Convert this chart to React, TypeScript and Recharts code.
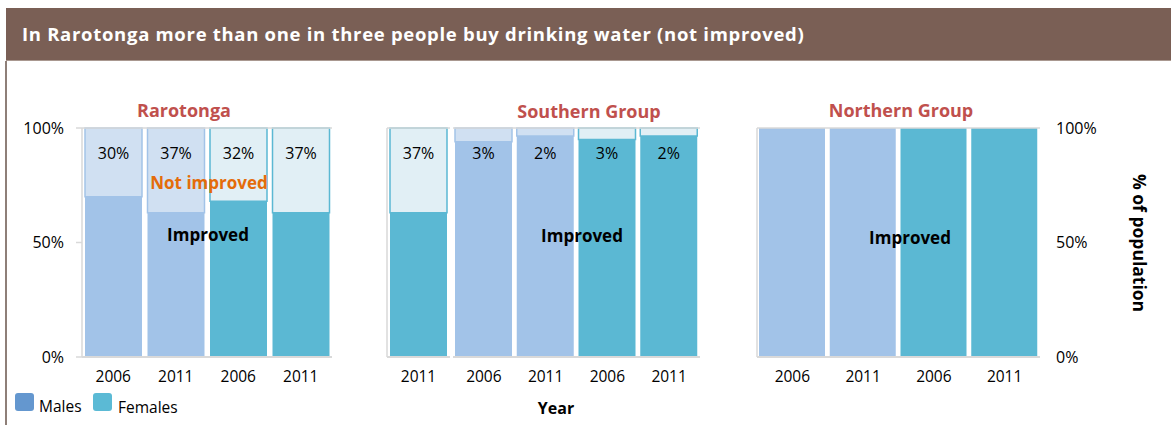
import React from 'react';
import { ComposedChart, Bar, Line, XAxis, YAxis, Cell, LabelList, ReferenceLine } from 'recharts';

// Rarotonga: males 2006/2011, females 2006/2011
const rarotongaYears = ['2006', '2011', '2006', '2011'];
const rarotongaSex = ['M', 'M', 'F', 'F'];
const rarotongaImproved = [70, 63, 68, 63];
const rarotongaNotImproved = [30, 37, 32, 37];
const rarotongaLabels = ['30%', '37%', '32%', '37%'];

// stray bar sitting at the left of the Southern Group panel
const southernExtraYears = ['2011'];
const southernExtraSex = ['F'];
const southernExtraImproved = [63];
const southernExtraNotImproved = [37];
const southernExtraLabels = ['37%'];

const southernYears = ['2006', '2011', '2006', '2011'];
const southernSex = ['M', 'M', 'F', 'F'];
const southernImproved = [94, 96.5, 95, 96.5];
const southernNotImproved = [6, 3.5, 5, 3.5];
const southernLabels = ['3%', '2%', '3%', '2%'];

const northernYears = ['2006', '2011', '2006', '2011'];
const northernSex = ['M', 'M', 'F', 'F'];
const northernImproved = [100, 100, 100, 100];
const northernNotImproved = [0, 0, 0, 0];
const northernLabels = ['', '', '', ''];

const yTicks = [0, 50, 100];

const FONT = '"Open Sans", sans-serif';
const GRID = '#D9D9D9';
const COLORS: Record<string, { solid: string; light: string }> = {
  M: { solid: '#A2C3E8', light: '#D0E0F2' },
  F: { solid: '#5BB8D3', light: '#E1EFF5' },
};

function buildRows(years: string[], sex: string[], improved: number[], notImproved: number[], labels: string[]) {
  return years.map((year, i) => ({
    key: `${sex[i]}-${year}`,
    sex: sex[i],
    improved: improved[i],
    notImproved: notImproved[i],
    total: improved[i] + notImproved[i],
    label: labels[i],
  }));
}

const renderValueLabel = (props: any) => {
  const { x, y, width, value } = props;
  if (!value) return null;
  return (
    <text
      x={Number(x) + Number(width) / 2}
      y={Number(y) + 25}
      textAnchor="middle"
      dominantBaseline="central"
      fill="#000"
      fontSize={16}
      fontFamily={FONT}
    >
      {value}
    </text>
  );
};

interface PanelProps {
  rows: ReturnType<typeof buildRows>;
  left: number;
  width: number;
  leftAxis: 'labels' | 'plain' | 'none';
  rightAxis?: boolean;
  marginLeft?: number;
  marginRight: number;
  barSize: number;
}

function Panel({ rows, left, width, leftAxis, rightAxis, marginLeft = 0, marginRight, barSize }: PanelProps) {
  const xTickStyle = { fill: '#000', fontSize: 15.5, fontFamily: FONT };
  const yTickStyle = { fill: '#000', fontSize: 16, fontFamily: FONT };
  return (
    <div style={{ position: 'absolute', left, top: 0 }}>
      <ComposedChart
        width={width}
        height={425}
        data={rows}
        margin={{ top: 128, right: marginRight, bottom: 38, left: marginLeft }}
        barSize={barSize}
      >
        <XAxis
          dataKey="key"
          tickFormatter={(v: string) => v.split('-')[1]}
          height={30}
          interval={0}
          axisLine={{ stroke: GRID, strokeWidth: 2 }}
          tickLine={false}
          tickSize={0}
          tickMargin={14}
          tick={xTickStyle}
        />
        <YAxis
          yAxisId="l"
          domain={[0, 100]}
          ticks={yTicks}
          hide={leftAxis === 'none'}
          width={leftAxis === 'labels' ? 82 : 7}
          axisLine={{ stroke: GRID, strokeWidth: 1.5 }}
          tickLine={{ stroke: GRID, strokeWidth: 1.5 }}
          tickSize={6}
          tickMargin={12}
          tick={leftAxis === 'labels' ? yTickStyle : false}
          tickFormatter={(v: number) => `${v}%`}
        />
        {rightAxis && (
          <YAxis
            yAxisId="r"
            orientation="right"
            domain={[0, 100]}
            ticks={yTicks}
            width={60}
            axisLine={false}
            tickLine={false}
            tickSize={0}
            tickMargin={16}
            tick={yTickStyle}
            tickFormatter={(v: number) => `${v}%`}
          />
        )}
        <Bar yAxisId="l" dataKey="improved" stackId="s" isAnimationActive={false}>
          {rows.map((r, i) => (
            <Cell key={`imp-${i}`} fill={COLORS[r.sex].solid} />
          ))}
        </Bar>
        <Bar yAxisId="l" dataKey="notImproved" stackId="s" isAnimationActive={false}>
          {rows.map((r, i) => (
            <Cell key={`not-${i}`} fill={COLORS[r.sex].light} stroke={COLORS[r.sex].solid} strokeWidth={1.5} />
          ))}
          <LabelList dataKey="label" content={renderValueLabel} />
        </Bar>
        {rightAxis && (
          <Line
            yAxisId="r"
            dataKey="total"
            stroke="none"
            dot={false}
            activeDot={false}
            isAnimationActive={false}
          />
        )}
        <ReferenceLine yAxisId="l" y={100} stroke={GRID} strokeWidth={1.5} />
      </ComposedChart>
    </div>
  );
}

const note = (text: string, x: number, y: number, style: React.CSSProperties) => (
  <div
    style={{
      position: 'absolute',
      left: x,
      top: y,
      transform: 'translate(-50%, -50%)',
      whiteSpace: 'nowrap',
      fontFamily: FONT,
      ...style,
    }}
  >
    {text}
  </div>
);

export default function App() {
  const rarotonga = buildRows(rarotongaYears, rarotongaSex, rarotongaImproved, rarotongaNotImproved, rarotongaLabels);
  const southernExtra = buildRows(southernExtraYears, southernExtraSex, southernExtraImproved, southernExtraNotImproved, southernExtraLabels);
  const southern = buildRows(southernYears, southernSex, southernImproved, southernNotImproved, southernLabels);
  const northern = buildRows(northernYears, northernSex, northernImproved, northernNotImproved, northernLabels);

  const panelTitle = { color: '#C0504D', fontWeight: 700, fontSize: 18 };
  const inBar = { color: '#000', fontWeight: 700, fontSize: 17 };

  return (
    <div style={{ position: 'absolute', left: 0, top: 0, width: 1171, height: 425, background: '#fff', overflow: 'hidden' }}>
      {/* header band */}
      <div
        style={{
          position: 'absolute',
          left: 6,
          top: 8,
          width: 1165,
          height: 53,
          background: '#7A5F55',
          borderBottom: '1px solid #A99890',
          boxSizing: 'border-box',
        }}
      >
        <div
          style={{
            position: 'absolute',
            left: 16,
            top: 0,
            height: 52,
            lineHeight: '52px',
            color: '#fff',
            fontFamily: FONT,
            fontWeight: 700,
            fontSize: 18.5,
            letterSpacing: 0.7,
            whiteSpace: 'nowrap',
          }}
        >
          In Rarotonga more than one in three people buy drinking water (not improved)
        </div>
      </div>
      <div style={{ position: 'absolute', left: 5, top: 61, width: 1.5, height: 364, background: '#8E7F78' }} />

      <Panel rows={rarotonga} left={0} width={340} leftAxis="labels" marginRight={8} barSize={57} />
      <Panel rows={southernExtra} left={380} width={72} leftAxis="plain" marginRight={2} barSize={57} />
      <Panel rows={southern} left={451} width={252} leftAxis="none" marginLeft={2} marginRight={3} barSize={57} />
      <Panel rows={northern} left={750} width={421} leftAxis="plain" rightAxis marginRight={71} barSize={66} />

      {note('Rarotonga', 184, 110, panelTitle)}
      {note('Southern Group', 589, 111, panelTitle)}
      {note('Northern Group', 901, 110, panelTitle)}

      {note('Not improved', 209, 182, { color: '#E46C0A', fontWeight: 700, fontSize: 17 })}
      {note('Improved', 208, 234, inBar)}
      {note('Improved', 582, 235, inBar)}
      {note('Improved', 910, 237, inBar)}

      <div
        style={{
          position: 'absolute',
          left: 1140,
          top: 243,
          transform: 'translate(-50%, -50%) rotate(90deg)',
          whiteSpace: 'nowrap',
          fontFamily: FONT,
          fontWeight: 700,
          fontSize: 17.5,
          color: '#000',
        }}
      >
        % of population
      </div>

      {note('Year', 556, 408, { color: '#000', fontWeight: 700, fontSize: 16 })}

      {/* legend */}
      <div style={{ position: 'absolute', left: 15, top: 393, width: 19, height: 18, background: '#6497CF', borderRadius: 3 }} />
      <div style={{ position: 'absolute', left: 39, top: 396, fontFamily: FONT, fontSize: 15.5, color: '#000', lineHeight: '20px' }}>Males</div>
      <div style={{ position: 'absolute', left: 93, top: 393, width: 19, height: 18, background: '#5BBAD5', borderRadius: 3 }} />
      <div style={{ position: 'absolute', left: 118, top: 397, fontFamily: FONT, fontSize: 15.5, color: '#000', lineHeight: '20px' }}>Females</div>
    </div>
  );
}
